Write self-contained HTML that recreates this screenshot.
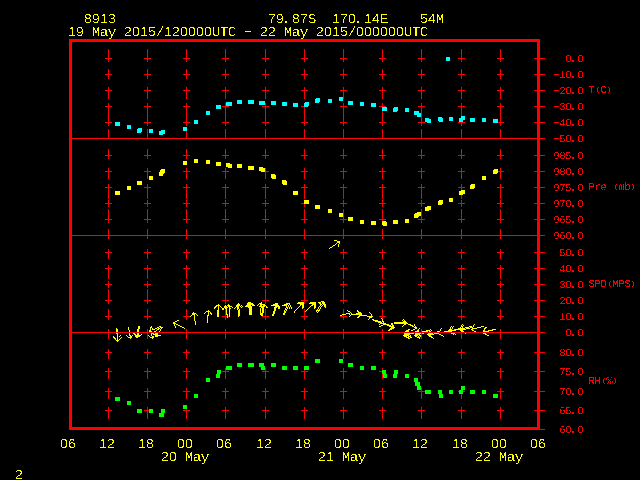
<!DOCTYPE html>
<html lang="en"><head><meta charset="utf-8"><title>Meteogram 8913</title>
<style>
html,body{margin:0;padding:0;background:#000;width:640px;height:480px;overflow:hidden}
svg{display:block;position:absolute;left:0;top:0}
text{font-family:"Liberation Sans",sans-serif;white-space:pre;text-rendering:geometricPrecision}
.t{font-size:13.0px;fill:#ffff00}
.r{font-size:10.2px;fill:#ff0000}
.m{font-family:"Liberation Mono",monospace}
.t .m{font-size:13.4px}
.r .m{font-size:10.6px}
.t .h{font-size:20px}
.r .h{font-size:18px}
.t .p{font-size:20px}
.r .p{font-size:18px}
.r .q{font-size:7.5px;font-weight:bold;font-family:"Liberation Sans",sans-serif}
</style></head><body>
<svg width="640" height="480" viewBox="0 0 640 480">
<defs>
<filter id="crispT" x="0" y="0" width="640" height="480" filterUnits="userSpaceOnUse" color-interpolation-filters="sRGB"><feComponentTransfer><feFuncA type="discrete" tableValues="0 0 0 0 0 0 0 0 0 0 0 0 0 0 0 0 0 0 0 0 0 0 0 0 1 1 1 1 1 1 1 1 1 1 1 1 1 1 1 1"/></feComponentTransfer></filter>
<filter id="crispR" x="0" y="0" width="640" height="480" filterUnits="userSpaceOnUse" color-interpolation-filters="sRGB"><feComponentTransfer><feFuncA type="discrete" tableValues="0 0 0 0 0 0 0 0 0 0 0 0 0 0 0 0 0 0 0 0 1 1 1 1 1 1 1 1 1 1 1 1 1 1 1 1 1 1 1 1"/></feComponentTransfer></filter>
</defs>
<rect x="0" y="0" width="640" height="480" fill="#000"/>
<g shape-rendering="crispEdges">
<rect x="108" y="49" width="1" height="13" fill="#ff0000"/>
<rect x="108" y="69" width="1" height="10" fill="#ff0000"/>
<rect x="108" y="87" width="1" height="12" fill="#ff0000"/>
<rect x="108" y="103" width="1" height="23" fill="#ff0000"/>
<rect x="108" y="129" width="1" height="10" fill="#ff0000"/>
<rect x="108" y="149" width="1" height="10" fill="#ff0000"/>
<rect x="108" y="168" width="1" height="11" fill="#ff0000"/>
<rect x="108" y="184" width="1" height="15" fill="#ff0000"/>
<rect x="108" y="200" width="1" height="7" fill="#ff0000"/>
<rect x="108" y="209" width="1" height="14" fill="#ff0000"/>
<rect x="108" y="229" width="1" height="10" fill="#ff0000"/>
<rect x="108" y="249" width="1" height="10" fill="#ff0000"/>
<rect x="108" y="265" width="1" height="14" fill="#ff0000"/>
<rect x="108" y="281" width="1" height="7" fill="#ff0000"/>
<rect x="108" y="289" width="1" height="15" fill="#ff0000"/>
<rect x="108" y="309" width="1" height="11" fill="#ff0000"/>
<rect x="108" y="329" width="1" height="10" fill="#ff0000"/>
<rect x="108" y="349" width="1" height="10" fill="#ff0000"/>
<rect x="108" y="368" width="1" height="11" fill="#ff0000"/>
<rect x="108" y="388" width="1" height="11" fill="#ff0000"/>
<rect x="108" y="407" width="1" height="12" fill="#ff0000"/>
<rect x="105" y="58" width="7" height="1" fill="#ff0000"/>
<rect x="105" y="74" width="7" height="1" fill="#ff0000"/>
<rect x="105" y="90" width="7" height="1" fill="#ff0000"/>
<rect x="105" y="106" width="7" height="1" fill="#ff0000"/>
<rect x="105" y="122" width="7" height="1" fill="#ff0000"/>
<rect x="105" y="155" width="7" height="1" fill="#ff0000"/>
<rect x="105" y="171" width="7" height="1" fill="#ff0000"/>
<rect x="105" y="187" width="7" height="1" fill="#ff0000"/>
<rect x="105" y="203" width="7" height="1" fill="#ff0000"/>
<rect x="105" y="219" width="7" height="1" fill="#ff0000"/>
<rect x="105" y="252" width="7" height="1" fill="#ff0000"/>
<rect x="105" y="268" width="7" height="1" fill="#ff0000"/>
<rect x="105" y="284" width="7" height="1" fill="#ff0000"/>
<rect x="105" y="300" width="7" height="1" fill="#ff0000"/>
<rect x="105" y="316" width="7" height="1" fill="#ff0000"/>
<rect x="105" y="352" width="7" height="1" fill="#ff0000"/>
<rect x="105" y="371" width="7" height="1" fill="#ff0000"/>
<rect x="105" y="391" width="7" height="1" fill="#ff0000"/>
<rect x="105" y="410" width="7" height="1" fill="#ff0000"/>
<rect x="147" y="49" width="1" height="13" fill="#ff0000"/>
<rect x="147" y="69" width="1" height="10" fill="#ff0000"/>
<rect x="147" y="87" width="1" height="12" fill="#ff0000"/>
<rect x="147" y="103" width="1" height="23" fill="#ff0000"/>
<rect x="147" y="129" width="1" height="10" fill="#ff0000"/>
<rect x="147" y="149" width="1" height="10" fill="#ff0000"/>
<rect x="147" y="168" width="1" height="11" fill="#ff0000"/>
<rect x="147" y="184" width="1" height="15" fill="#ff0000"/>
<rect x="147" y="200" width="1" height="7" fill="#ff0000"/>
<rect x="147" y="209" width="1" height="14" fill="#ff0000"/>
<rect x="147" y="229" width="1" height="10" fill="#ff0000"/>
<rect x="147" y="249" width="1" height="10" fill="#ff0000"/>
<rect x="147" y="265" width="1" height="14" fill="#ff0000"/>
<rect x="147" y="281" width="1" height="7" fill="#ff0000"/>
<rect x="147" y="289" width="1" height="15" fill="#ff0000"/>
<rect x="147" y="309" width="1" height="11" fill="#ff0000"/>
<rect x="147" y="329" width="1" height="10" fill="#ff0000"/>
<rect x="147" y="349" width="1" height="10" fill="#ff0000"/>
<rect x="147" y="368" width="1" height="11" fill="#ff0000"/>
<rect x="147" y="388" width="1" height="11" fill="#ff0000"/>
<rect x="147" y="407" width="1" height="12" fill="#ff0000"/>
<rect x="144" y="58" width="7" height="1" fill="#ff0000"/>
<rect x="144" y="74" width="7" height="1" fill="#ff0000"/>
<rect x="144" y="90" width="7" height="1" fill="#ff0000"/>
<rect x="144" y="106" width="7" height="1" fill="#ff0000"/>
<rect x="144" y="122" width="7" height="1" fill="#ff0000"/>
<rect x="144" y="155" width="7" height="1" fill="#ff0000"/>
<rect x="144" y="171" width="7" height="1" fill="#ff0000"/>
<rect x="144" y="187" width="7" height="1" fill="#ff0000"/>
<rect x="144" y="203" width="7" height="1" fill="#ff0000"/>
<rect x="144" y="219" width="7" height="1" fill="#ff0000"/>
<rect x="144" y="252" width="7" height="1" fill="#ff0000"/>
<rect x="144" y="268" width="7" height="1" fill="#ff0000"/>
<rect x="144" y="284" width="7" height="1" fill="#ff0000"/>
<rect x="144" y="300" width="7" height="1" fill="#ff0000"/>
<rect x="144" y="316" width="7" height="1" fill="#ff0000"/>
<rect x="144" y="352" width="7" height="1" fill="#ff0000"/>
<rect x="144" y="371" width="7" height="1" fill="#ff0000"/>
<rect x="144" y="391" width="7" height="1" fill="#ff0000"/>
<rect x="144" y="410" width="7" height="1" fill="#ff0000"/>
<rect x="186" y="49" width="1" height="13" fill="#ff0000"/>
<rect x="186" y="69" width="1" height="10" fill="#ff0000"/>
<rect x="186" y="87" width="1" height="12" fill="#ff0000"/>
<rect x="186" y="103" width="1" height="23" fill="#ff0000"/>
<rect x="186" y="129" width="1" height="10" fill="#ff0000"/>
<rect x="186" y="149" width="1" height="10" fill="#ff0000"/>
<rect x="186" y="168" width="1" height="11" fill="#ff0000"/>
<rect x="186" y="184" width="1" height="15" fill="#ff0000"/>
<rect x="186" y="200" width="1" height="7" fill="#ff0000"/>
<rect x="186" y="209" width="1" height="14" fill="#ff0000"/>
<rect x="186" y="229" width="1" height="10" fill="#ff0000"/>
<rect x="186" y="249" width="1" height="10" fill="#ff0000"/>
<rect x="186" y="265" width="1" height="14" fill="#ff0000"/>
<rect x="186" y="281" width="1" height="7" fill="#ff0000"/>
<rect x="186" y="289" width="1" height="15" fill="#ff0000"/>
<rect x="186" y="309" width="1" height="11" fill="#ff0000"/>
<rect x="186" y="329" width="1" height="10" fill="#ff0000"/>
<rect x="186" y="349" width="1" height="10" fill="#ff0000"/>
<rect x="186" y="368" width="1" height="11" fill="#ff0000"/>
<rect x="186" y="388" width="1" height="11" fill="#ff0000"/>
<rect x="186" y="407" width="1" height="12" fill="#ff0000"/>
<rect x="183" y="58" width="7" height="1" fill="#ff0000"/>
<rect x="183" y="74" width="7" height="1" fill="#ff0000"/>
<rect x="183" y="90" width="7" height="1" fill="#ff0000"/>
<rect x="183" y="106" width="7" height="1" fill="#ff0000"/>
<rect x="183" y="122" width="7" height="1" fill="#ff0000"/>
<rect x="183" y="155" width="7" height="1" fill="#ff0000"/>
<rect x="183" y="171" width="7" height="1" fill="#ff0000"/>
<rect x="183" y="187" width="7" height="1" fill="#ff0000"/>
<rect x="183" y="203" width="7" height="1" fill="#ff0000"/>
<rect x="183" y="219" width="7" height="1" fill="#ff0000"/>
<rect x="183" y="252" width="7" height="1" fill="#ff0000"/>
<rect x="183" y="268" width="7" height="1" fill="#ff0000"/>
<rect x="183" y="284" width="7" height="1" fill="#ff0000"/>
<rect x="183" y="300" width="7" height="1" fill="#ff0000"/>
<rect x="183" y="316" width="7" height="1" fill="#ff0000"/>
<rect x="183" y="352" width="7" height="1" fill="#ff0000"/>
<rect x="183" y="371" width="7" height="1" fill="#ff0000"/>
<rect x="183" y="391" width="7" height="1" fill="#ff0000"/>
<rect x="183" y="410" width="7" height="1" fill="#ff0000"/>
<rect x="225" y="49" width="1" height="13" fill="#ff0000"/>
<rect x="225" y="69" width="1" height="10" fill="#ff0000"/>
<rect x="225" y="87" width="1" height="12" fill="#ff0000"/>
<rect x="225" y="103" width="1" height="23" fill="#ff0000"/>
<rect x="225" y="129" width="1" height="10" fill="#ff0000"/>
<rect x="225" y="149" width="1" height="10" fill="#ff0000"/>
<rect x="225" y="168" width="1" height="11" fill="#ff0000"/>
<rect x="225" y="184" width="1" height="15" fill="#ff0000"/>
<rect x="225" y="200" width="1" height="7" fill="#ff0000"/>
<rect x="225" y="209" width="1" height="14" fill="#ff0000"/>
<rect x="225" y="229" width="1" height="10" fill="#ff0000"/>
<rect x="225" y="249" width="1" height="10" fill="#ff0000"/>
<rect x="225" y="265" width="1" height="14" fill="#ff0000"/>
<rect x="225" y="281" width="1" height="7" fill="#ff0000"/>
<rect x="225" y="289" width="1" height="15" fill="#ff0000"/>
<rect x="225" y="309" width="1" height="11" fill="#ff0000"/>
<rect x="225" y="329" width="1" height="10" fill="#ff0000"/>
<rect x="225" y="349" width="1" height="10" fill="#ff0000"/>
<rect x="225" y="368" width="1" height="11" fill="#ff0000"/>
<rect x="225" y="388" width="1" height="11" fill="#ff0000"/>
<rect x="225" y="407" width="1" height="12" fill="#ff0000"/>
<rect x="222" y="58" width="7" height="1" fill="#ff0000"/>
<rect x="222" y="74" width="7" height="1" fill="#ff0000"/>
<rect x="222" y="90" width="7" height="1" fill="#ff0000"/>
<rect x="222" y="106" width="7" height="1" fill="#ff0000"/>
<rect x="222" y="122" width="7" height="1" fill="#ff0000"/>
<rect x="222" y="155" width="7" height="1" fill="#ff0000"/>
<rect x="222" y="171" width="7" height="1" fill="#ff0000"/>
<rect x="222" y="187" width="7" height="1" fill="#ff0000"/>
<rect x="222" y="203" width="7" height="1" fill="#ff0000"/>
<rect x="222" y="219" width="7" height="1" fill="#ff0000"/>
<rect x="222" y="252" width="7" height="1" fill="#ff0000"/>
<rect x="222" y="268" width="7" height="1" fill="#ff0000"/>
<rect x="222" y="284" width="7" height="1" fill="#ff0000"/>
<rect x="222" y="300" width="7" height="1" fill="#ff0000"/>
<rect x="222" y="316" width="7" height="1" fill="#ff0000"/>
<rect x="222" y="352" width="7" height="1" fill="#ff0000"/>
<rect x="222" y="371" width="7" height="1" fill="#ff0000"/>
<rect x="222" y="391" width="7" height="1" fill="#ff0000"/>
<rect x="222" y="410" width="7" height="1" fill="#ff0000"/>
<rect x="265" y="49" width="1" height="13" fill="#ff0000"/>
<rect x="265" y="69" width="1" height="10" fill="#ff0000"/>
<rect x="265" y="87" width="1" height="12" fill="#ff0000"/>
<rect x="265" y="103" width="1" height="23" fill="#ff0000"/>
<rect x="265" y="129" width="1" height="10" fill="#ff0000"/>
<rect x="265" y="149" width="1" height="10" fill="#ff0000"/>
<rect x="265" y="168" width="1" height="11" fill="#ff0000"/>
<rect x="265" y="184" width="1" height="15" fill="#ff0000"/>
<rect x="265" y="200" width="1" height="7" fill="#ff0000"/>
<rect x="265" y="209" width="1" height="14" fill="#ff0000"/>
<rect x="265" y="229" width="1" height="10" fill="#ff0000"/>
<rect x="265" y="249" width="1" height="10" fill="#ff0000"/>
<rect x="265" y="265" width="1" height="14" fill="#ff0000"/>
<rect x="265" y="281" width="1" height="7" fill="#ff0000"/>
<rect x="265" y="289" width="1" height="15" fill="#ff0000"/>
<rect x="265" y="309" width="1" height="11" fill="#ff0000"/>
<rect x="265" y="329" width="1" height="10" fill="#ff0000"/>
<rect x="265" y="349" width="1" height="10" fill="#ff0000"/>
<rect x="265" y="368" width="1" height="11" fill="#ff0000"/>
<rect x="265" y="388" width="1" height="11" fill="#ff0000"/>
<rect x="265" y="407" width="1" height="12" fill="#ff0000"/>
<rect x="262" y="58" width="7" height="1" fill="#ff0000"/>
<rect x="262" y="74" width="7" height="1" fill="#ff0000"/>
<rect x="262" y="90" width="7" height="1" fill="#ff0000"/>
<rect x="262" y="106" width="7" height="1" fill="#ff0000"/>
<rect x="262" y="122" width="7" height="1" fill="#ff0000"/>
<rect x="262" y="155" width="7" height="1" fill="#ff0000"/>
<rect x="262" y="171" width="7" height="1" fill="#ff0000"/>
<rect x="262" y="187" width="7" height="1" fill="#ff0000"/>
<rect x="262" y="203" width="7" height="1" fill="#ff0000"/>
<rect x="262" y="219" width="7" height="1" fill="#ff0000"/>
<rect x="262" y="252" width="7" height="1" fill="#ff0000"/>
<rect x="262" y="268" width="7" height="1" fill="#ff0000"/>
<rect x="262" y="284" width="7" height="1" fill="#ff0000"/>
<rect x="262" y="300" width="7" height="1" fill="#ff0000"/>
<rect x="262" y="316" width="7" height="1" fill="#ff0000"/>
<rect x="262" y="352" width="7" height="1" fill="#ff0000"/>
<rect x="262" y="371" width="7" height="1" fill="#ff0000"/>
<rect x="262" y="391" width="7" height="1" fill="#ff0000"/>
<rect x="262" y="410" width="7" height="1" fill="#ff0000"/>
<rect x="304" y="49" width="1" height="13" fill="#ff0000"/>
<rect x="304" y="69" width="1" height="10" fill="#ff0000"/>
<rect x="304" y="87" width="1" height="12" fill="#ff0000"/>
<rect x="304" y="103" width="1" height="23" fill="#ff0000"/>
<rect x="304" y="129" width="1" height="10" fill="#ff0000"/>
<rect x="304" y="149" width="1" height="10" fill="#ff0000"/>
<rect x="304" y="168" width="1" height="11" fill="#ff0000"/>
<rect x="304" y="184" width="1" height="15" fill="#ff0000"/>
<rect x="304" y="200" width="1" height="7" fill="#ff0000"/>
<rect x="304" y="209" width="1" height="14" fill="#ff0000"/>
<rect x="304" y="229" width="1" height="10" fill="#ff0000"/>
<rect x="304" y="249" width="1" height="10" fill="#ff0000"/>
<rect x="304" y="265" width="1" height="14" fill="#ff0000"/>
<rect x="304" y="281" width="1" height="7" fill="#ff0000"/>
<rect x="304" y="289" width="1" height="15" fill="#ff0000"/>
<rect x="304" y="309" width="1" height="11" fill="#ff0000"/>
<rect x="304" y="329" width="1" height="10" fill="#ff0000"/>
<rect x="304" y="349" width="1" height="10" fill="#ff0000"/>
<rect x="304" y="368" width="1" height="11" fill="#ff0000"/>
<rect x="304" y="388" width="1" height="11" fill="#ff0000"/>
<rect x="304" y="407" width="1" height="12" fill="#ff0000"/>
<rect x="301" y="58" width="7" height="1" fill="#ff0000"/>
<rect x="301" y="74" width="7" height="1" fill="#ff0000"/>
<rect x="301" y="90" width="7" height="1" fill="#ff0000"/>
<rect x="301" y="106" width="7" height="1" fill="#ff0000"/>
<rect x="301" y="122" width="7" height="1" fill="#ff0000"/>
<rect x="301" y="155" width="7" height="1" fill="#ff0000"/>
<rect x="301" y="171" width="7" height="1" fill="#ff0000"/>
<rect x="301" y="187" width="7" height="1" fill="#ff0000"/>
<rect x="301" y="203" width="7" height="1" fill="#ff0000"/>
<rect x="301" y="219" width="7" height="1" fill="#ff0000"/>
<rect x="301" y="252" width="7" height="1" fill="#ff0000"/>
<rect x="301" y="268" width="7" height="1" fill="#ff0000"/>
<rect x="301" y="284" width="7" height="1" fill="#ff0000"/>
<rect x="301" y="300" width="7" height="1" fill="#ff0000"/>
<rect x="301" y="316" width="7" height="1" fill="#ff0000"/>
<rect x="301" y="352" width="7" height="1" fill="#ff0000"/>
<rect x="301" y="371" width="7" height="1" fill="#ff0000"/>
<rect x="301" y="391" width="7" height="1" fill="#ff0000"/>
<rect x="301" y="410" width="7" height="1" fill="#ff0000"/>
<rect x="343" y="49" width="1" height="13" fill="#ff0000"/>
<rect x="343" y="69" width="1" height="10" fill="#ff0000"/>
<rect x="343" y="87" width="1" height="12" fill="#ff0000"/>
<rect x="343" y="103" width="1" height="23" fill="#ff0000"/>
<rect x="343" y="129" width="1" height="10" fill="#ff0000"/>
<rect x="343" y="149" width="1" height="10" fill="#ff0000"/>
<rect x="343" y="168" width="1" height="11" fill="#ff0000"/>
<rect x="343" y="184" width="1" height="15" fill="#ff0000"/>
<rect x="343" y="200" width="1" height="7" fill="#ff0000"/>
<rect x="343" y="209" width="1" height="14" fill="#ff0000"/>
<rect x="343" y="229" width="1" height="10" fill="#ff0000"/>
<rect x="343" y="249" width="1" height="10" fill="#ff0000"/>
<rect x="343" y="265" width="1" height="14" fill="#ff0000"/>
<rect x="343" y="281" width="1" height="7" fill="#ff0000"/>
<rect x="343" y="289" width="1" height="15" fill="#ff0000"/>
<rect x="343" y="309" width="1" height="11" fill="#ff0000"/>
<rect x="343" y="329" width="1" height="10" fill="#ff0000"/>
<rect x="343" y="349" width="1" height="10" fill="#ff0000"/>
<rect x="343" y="368" width="1" height="11" fill="#ff0000"/>
<rect x="343" y="388" width="1" height="11" fill="#ff0000"/>
<rect x="343" y="407" width="1" height="12" fill="#ff0000"/>
<rect x="340" y="58" width="7" height="1" fill="#ff0000"/>
<rect x="340" y="74" width="7" height="1" fill="#ff0000"/>
<rect x="340" y="90" width="7" height="1" fill="#ff0000"/>
<rect x="340" y="106" width="7" height="1" fill="#ff0000"/>
<rect x="340" y="122" width="7" height="1" fill="#ff0000"/>
<rect x="340" y="155" width="7" height="1" fill="#ff0000"/>
<rect x="340" y="171" width="7" height="1" fill="#ff0000"/>
<rect x="340" y="187" width="7" height="1" fill="#ff0000"/>
<rect x="340" y="203" width="7" height="1" fill="#ff0000"/>
<rect x="340" y="219" width="7" height="1" fill="#ff0000"/>
<rect x="340" y="252" width="7" height="1" fill="#ff0000"/>
<rect x="340" y="268" width="7" height="1" fill="#ff0000"/>
<rect x="340" y="284" width="7" height="1" fill="#ff0000"/>
<rect x="340" y="300" width="7" height="1" fill="#ff0000"/>
<rect x="340" y="316" width="7" height="1" fill="#ff0000"/>
<rect x="340" y="352" width="7" height="1" fill="#ff0000"/>
<rect x="340" y="371" width="7" height="1" fill="#ff0000"/>
<rect x="340" y="391" width="7" height="1" fill="#ff0000"/>
<rect x="340" y="410" width="7" height="1" fill="#ff0000"/>
<rect x="382" y="49" width="1" height="13" fill="#ff0000"/>
<rect x="382" y="69" width="1" height="10" fill="#ff0000"/>
<rect x="382" y="87" width="1" height="12" fill="#ff0000"/>
<rect x="382" y="103" width="1" height="23" fill="#ff0000"/>
<rect x="382" y="129" width="1" height="10" fill="#ff0000"/>
<rect x="382" y="149" width="1" height="10" fill="#ff0000"/>
<rect x="382" y="168" width="1" height="11" fill="#ff0000"/>
<rect x="382" y="184" width="1" height="15" fill="#ff0000"/>
<rect x="382" y="200" width="1" height="7" fill="#ff0000"/>
<rect x="382" y="209" width="1" height="14" fill="#ff0000"/>
<rect x="382" y="229" width="1" height="10" fill="#ff0000"/>
<rect x="382" y="249" width="1" height="10" fill="#ff0000"/>
<rect x="382" y="265" width="1" height="14" fill="#ff0000"/>
<rect x="382" y="281" width="1" height="7" fill="#ff0000"/>
<rect x="382" y="289" width="1" height="15" fill="#ff0000"/>
<rect x="382" y="309" width="1" height="11" fill="#ff0000"/>
<rect x="382" y="329" width="1" height="10" fill="#ff0000"/>
<rect x="382" y="349" width="1" height="10" fill="#ff0000"/>
<rect x="382" y="368" width="1" height="11" fill="#ff0000"/>
<rect x="382" y="388" width="1" height="11" fill="#ff0000"/>
<rect x="382" y="407" width="1" height="12" fill="#ff0000"/>
<rect x="379" y="58" width="7" height="1" fill="#ff0000"/>
<rect x="379" y="74" width="7" height="1" fill="#ff0000"/>
<rect x="379" y="90" width="7" height="1" fill="#ff0000"/>
<rect x="379" y="106" width="7" height="1" fill="#ff0000"/>
<rect x="379" y="122" width="7" height="1" fill="#ff0000"/>
<rect x="379" y="155" width="7" height="1" fill="#ff0000"/>
<rect x="379" y="171" width="7" height="1" fill="#ff0000"/>
<rect x="379" y="187" width="7" height="1" fill="#ff0000"/>
<rect x="379" y="203" width="7" height="1" fill="#ff0000"/>
<rect x="379" y="219" width="7" height="1" fill="#ff0000"/>
<rect x="379" y="252" width="7" height="1" fill="#ff0000"/>
<rect x="379" y="268" width="7" height="1" fill="#ff0000"/>
<rect x="379" y="284" width="7" height="1" fill="#ff0000"/>
<rect x="379" y="300" width="7" height="1" fill="#ff0000"/>
<rect x="379" y="316" width="7" height="1" fill="#ff0000"/>
<rect x="379" y="352" width="7" height="1" fill="#ff0000"/>
<rect x="379" y="371" width="7" height="1" fill="#ff0000"/>
<rect x="379" y="391" width="7" height="1" fill="#ff0000"/>
<rect x="379" y="410" width="7" height="1" fill="#ff0000"/>
<rect x="421" y="49" width="1" height="13" fill="#ff0000"/>
<rect x="421" y="69" width="1" height="10" fill="#ff0000"/>
<rect x="421" y="87" width="1" height="12" fill="#ff0000"/>
<rect x="421" y="103" width="1" height="23" fill="#ff0000"/>
<rect x="421" y="129" width="1" height="10" fill="#ff0000"/>
<rect x="421" y="149" width="1" height="10" fill="#ff0000"/>
<rect x="421" y="168" width="1" height="11" fill="#ff0000"/>
<rect x="421" y="184" width="1" height="15" fill="#ff0000"/>
<rect x="421" y="200" width="1" height="7" fill="#ff0000"/>
<rect x="421" y="209" width="1" height="14" fill="#ff0000"/>
<rect x="421" y="229" width="1" height="10" fill="#ff0000"/>
<rect x="421" y="249" width="1" height="10" fill="#ff0000"/>
<rect x="421" y="265" width="1" height="14" fill="#ff0000"/>
<rect x="421" y="281" width="1" height="7" fill="#ff0000"/>
<rect x="421" y="289" width="1" height="15" fill="#ff0000"/>
<rect x="421" y="309" width="1" height="11" fill="#ff0000"/>
<rect x="421" y="329" width="1" height="10" fill="#ff0000"/>
<rect x="421" y="349" width="1" height="10" fill="#ff0000"/>
<rect x="421" y="368" width="1" height="11" fill="#ff0000"/>
<rect x="421" y="388" width="1" height="11" fill="#ff0000"/>
<rect x="421" y="407" width="1" height="12" fill="#ff0000"/>
<rect x="418" y="58" width="7" height="1" fill="#ff0000"/>
<rect x="418" y="74" width="7" height="1" fill="#ff0000"/>
<rect x="418" y="90" width="7" height="1" fill="#ff0000"/>
<rect x="418" y="106" width="7" height="1" fill="#ff0000"/>
<rect x="418" y="122" width="7" height="1" fill="#ff0000"/>
<rect x="418" y="155" width="7" height="1" fill="#ff0000"/>
<rect x="418" y="171" width="7" height="1" fill="#ff0000"/>
<rect x="418" y="187" width="7" height="1" fill="#ff0000"/>
<rect x="418" y="203" width="7" height="1" fill="#ff0000"/>
<rect x="418" y="219" width="7" height="1" fill="#ff0000"/>
<rect x="418" y="252" width="7" height="1" fill="#ff0000"/>
<rect x="418" y="268" width="7" height="1" fill="#ff0000"/>
<rect x="418" y="284" width="7" height="1" fill="#ff0000"/>
<rect x="418" y="300" width="7" height="1" fill="#ff0000"/>
<rect x="418" y="316" width="7" height="1" fill="#ff0000"/>
<rect x="418" y="352" width="7" height="1" fill="#ff0000"/>
<rect x="418" y="371" width="7" height="1" fill="#ff0000"/>
<rect x="418" y="391" width="7" height="1" fill="#ff0000"/>
<rect x="418" y="410" width="7" height="1" fill="#ff0000"/>
<rect x="461" y="49" width="1" height="13" fill="#ff0000"/>
<rect x="461" y="69" width="1" height="10" fill="#ff0000"/>
<rect x="461" y="87" width="1" height="12" fill="#ff0000"/>
<rect x="461" y="103" width="1" height="23" fill="#ff0000"/>
<rect x="461" y="129" width="1" height="10" fill="#ff0000"/>
<rect x="461" y="149" width="1" height="10" fill="#ff0000"/>
<rect x="461" y="168" width="1" height="11" fill="#ff0000"/>
<rect x="461" y="184" width="1" height="15" fill="#ff0000"/>
<rect x="461" y="200" width="1" height="7" fill="#ff0000"/>
<rect x="461" y="209" width="1" height="14" fill="#ff0000"/>
<rect x="461" y="229" width="1" height="10" fill="#ff0000"/>
<rect x="461" y="249" width="1" height="10" fill="#ff0000"/>
<rect x="461" y="265" width="1" height="14" fill="#ff0000"/>
<rect x="461" y="281" width="1" height="7" fill="#ff0000"/>
<rect x="461" y="289" width="1" height="15" fill="#ff0000"/>
<rect x="461" y="309" width="1" height="11" fill="#ff0000"/>
<rect x="461" y="329" width="1" height="10" fill="#ff0000"/>
<rect x="461" y="349" width="1" height="10" fill="#ff0000"/>
<rect x="461" y="368" width="1" height="11" fill="#ff0000"/>
<rect x="461" y="388" width="1" height="11" fill="#ff0000"/>
<rect x="461" y="407" width="1" height="12" fill="#ff0000"/>
<rect x="458" y="58" width="7" height="1" fill="#ff0000"/>
<rect x="458" y="74" width="7" height="1" fill="#ff0000"/>
<rect x="458" y="90" width="7" height="1" fill="#ff0000"/>
<rect x="458" y="106" width="7" height="1" fill="#ff0000"/>
<rect x="458" y="122" width="7" height="1" fill="#ff0000"/>
<rect x="458" y="155" width="7" height="1" fill="#ff0000"/>
<rect x="458" y="171" width="7" height="1" fill="#ff0000"/>
<rect x="458" y="187" width="7" height="1" fill="#ff0000"/>
<rect x="458" y="203" width="7" height="1" fill="#ff0000"/>
<rect x="458" y="219" width="7" height="1" fill="#ff0000"/>
<rect x="458" y="252" width="7" height="1" fill="#ff0000"/>
<rect x="458" y="268" width="7" height="1" fill="#ff0000"/>
<rect x="458" y="284" width="7" height="1" fill="#ff0000"/>
<rect x="458" y="300" width="7" height="1" fill="#ff0000"/>
<rect x="458" y="316" width="7" height="1" fill="#ff0000"/>
<rect x="458" y="352" width="7" height="1" fill="#ff0000"/>
<rect x="458" y="371" width="7" height="1" fill="#ff0000"/>
<rect x="458" y="391" width="7" height="1" fill="#ff0000"/>
<rect x="458" y="410" width="7" height="1" fill="#ff0000"/>
<rect x="500" y="49" width="1" height="13" fill="#ff0000"/>
<rect x="500" y="69" width="1" height="10" fill="#ff0000"/>
<rect x="500" y="87" width="1" height="12" fill="#ff0000"/>
<rect x="500" y="103" width="1" height="23" fill="#ff0000"/>
<rect x="500" y="129" width="1" height="10" fill="#ff0000"/>
<rect x="500" y="149" width="1" height="10" fill="#ff0000"/>
<rect x="500" y="168" width="1" height="11" fill="#ff0000"/>
<rect x="500" y="184" width="1" height="15" fill="#ff0000"/>
<rect x="500" y="200" width="1" height="7" fill="#ff0000"/>
<rect x="500" y="209" width="1" height="14" fill="#ff0000"/>
<rect x="500" y="229" width="1" height="10" fill="#ff0000"/>
<rect x="500" y="249" width="1" height="10" fill="#ff0000"/>
<rect x="500" y="265" width="1" height="14" fill="#ff0000"/>
<rect x="500" y="281" width="1" height="7" fill="#ff0000"/>
<rect x="500" y="289" width="1" height="15" fill="#ff0000"/>
<rect x="500" y="309" width="1" height="11" fill="#ff0000"/>
<rect x="500" y="329" width="1" height="10" fill="#ff0000"/>
<rect x="500" y="349" width="1" height="10" fill="#ff0000"/>
<rect x="500" y="368" width="1" height="11" fill="#ff0000"/>
<rect x="500" y="388" width="1" height="11" fill="#ff0000"/>
<rect x="500" y="407" width="1" height="12" fill="#ff0000"/>
<rect x="497" y="58" width="7" height="1" fill="#ff0000"/>
<rect x="497" y="74" width="7" height="1" fill="#ff0000"/>
<rect x="497" y="90" width="7" height="1" fill="#ff0000"/>
<rect x="497" y="106" width="7" height="1" fill="#ff0000"/>
<rect x="497" y="122" width="7" height="1" fill="#ff0000"/>
<rect x="497" y="155" width="7" height="1" fill="#ff0000"/>
<rect x="497" y="171" width="7" height="1" fill="#ff0000"/>
<rect x="497" y="187" width="7" height="1" fill="#ff0000"/>
<rect x="497" y="203" width="7" height="1" fill="#ff0000"/>
<rect x="497" y="219" width="7" height="1" fill="#ff0000"/>
<rect x="497" y="252" width="7" height="1" fill="#ff0000"/>
<rect x="497" y="268" width="7" height="1" fill="#ff0000"/>
<rect x="497" y="284" width="7" height="1" fill="#ff0000"/>
<rect x="497" y="300" width="7" height="1" fill="#ff0000"/>
<rect x="497" y="316" width="7" height="1" fill="#ff0000"/>
<rect x="497" y="352" width="7" height="1" fill="#ff0000"/>
<rect x="497" y="371" width="7" height="1" fill="#ff0000"/>
<rect x="497" y="391" width="7" height="1" fill="#ff0000"/>
<rect x="497" y="410" width="7" height="1" fill="#ff0000"/>
<rect x="72" y="138" width="473" height="1" fill="#ff0000"/>
<rect x="72" y="235" width="473" height="1" fill="#ff0000"/>
<rect x="72" y="332" width="473" height="1" fill="#ff0000"/>
<rect x="534" y="58" width="11" height="1" fill="#ff0000"/>
<rect x="534" y="74" width="11" height="1" fill="#ff0000"/>
<rect x="534" y="90" width="11" height="1" fill="#ff0000"/>
<rect x="534" y="106" width="11" height="1" fill="#ff0000"/>
<rect x="534" y="122" width="11" height="1" fill="#ff0000"/>
<rect x="534" y="138" width="11" height="1" fill="#ff0000"/>
<rect x="534" y="155" width="11" height="1" fill="#ff0000"/>
<rect x="534" y="171" width="11" height="1" fill="#ff0000"/>
<rect x="534" y="187" width="11" height="1" fill="#ff0000"/>
<rect x="534" y="203" width="11" height="1" fill="#ff0000"/>
<rect x="534" y="219" width="11" height="1" fill="#ff0000"/>
<rect x="534" y="235" width="11" height="1" fill="#ff0000"/>
<rect x="534" y="252" width="11" height="1" fill="#ff0000"/>
<rect x="534" y="268" width="11" height="1" fill="#ff0000"/>
<rect x="534" y="284" width="11" height="1" fill="#ff0000"/>
<rect x="534" y="300" width="11" height="1" fill="#ff0000"/>
<rect x="534" y="316" width="11" height="1" fill="#ff0000"/>
<rect x="534" y="332" width="11" height="1" fill="#ff0000"/>
<rect x="534" y="352" width="11" height="1" fill="#ff0000"/>
<rect x="534" y="371" width="11" height="1" fill="#ff0000"/>
<rect x="534" y="391" width="11" height="1" fill="#ff0000"/>
<rect x="534" y="410" width="11" height="1" fill="#ff0000"/>
<rect x="534" y="429" width="11" height="1" fill="#ff0000"/>
<rect x="115" y="122" width="5" height="4" fill="#00ffff"/>
<rect x="127" y="125" width="4" height="4" fill="#00ffff"/>
<rect x="137" y="129" width="4" height="4" fill="#00ffff"/>
<rect x="138" y="128" width="4" height="4" fill="#00ffff"/>
<rect x="149" y="129" width="4" height="4" fill="#00ffff"/>
<rect x="159" y="131" width="4" height="4" fill="#00ffff"/>
<rect x="161" y="130" width="4" height="4" fill="#00ffff"/>
<rect x="183" y="127" width="4" height="4" fill="#00ffff"/>
<rect x="194" y="120" width="4" height="4" fill="#00ffff"/>
<rect x="206" y="111" width="4" height="4" fill="#00ffff"/>
<rect x="216" y="105" width="5" height="4" fill="#00ffff"/>
<rect x="226" y="102" width="6" height="4" fill="#00ffff"/>
<rect x="237" y="100" width="5" height="4" fill="#00ffff"/>
<rect x="248" y="100" width="6" height="4" fill="#00ffff"/>
<rect x="259" y="101" width="6" height="4" fill="#00ffff"/>
<rect x="271" y="101" width="5" height="4" fill="#00ffff"/>
<rect x="282" y="102" width="5" height="4" fill="#00ffff"/>
<rect x="293" y="103" width="5" height="4" fill="#00ffff"/>
<rect x="304" y="103" width="4" height="4" fill="#00ffff"/>
<rect x="305" y="102" width="4" height="4" fill="#00ffff"/>
<rect x="315" y="99" width="4" height="4" fill="#00ffff"/>
<rect x="316" y="98" width="4" height="4" fill="#00ffff"/>
<rect x="328" y="99" width="4" height="4" fill="#00ffff"/>
<rect x="339" y="97" width="4" height="4" fill="#00ffff"/>
<rect x="348" y="101" width="5" height="4" fill="#00ffff"/>
<rect x="360" y="102" width="4" height="4" fill="#00ffff"/>
<rect x="371" y="103" width="5" height="4" fill="#00ffff"/>
<rect x="382" y="107" width="5" height="4" fill="#00ffff"/>
<rect x="393" y="108" width="4" height="4" fill="#00ffff"/>
<rect x="394" y="107" width="4" height="4" fill="#00ffff"/>
<rect x="405" y="108" width="4" height="4" fill="#00ffff"/>
<rect x="414" y="111" width="5" height="4" fill="#00ffff"/>
<rect x="417" y="113" width="4" height="4" fill="#00ffff"/>
<rect x="425" y="118" width="4" height="4" fill="#00ffff"/>
<rect x="427" y="119" width="4" height="4" fill="#00ffff"/>
<rect x="438" y="117" width="4" height="4" fill="#00ffff"/>
<rect x="439" y="118" width="4" height="4" fill="#00ffff"/>
<rect x="449" y="117" width="4" height="4" fill="#00ffff"/>
<rect x="459" y="118" width="4" height="4" fill="#00ffff"/>
<rect x="461" y="116" width="4" height="4" fill="#00ffff"/>
<rect x="470" y="118" width="5" height="4" fill="#00ffff"/>
<rect x="482" y="118" width="4" height="4" fill="#00ffff"/>
<rect x="493" y="119" width="5" height="4" fill="#00ffff"/>
<rect x="446" y="57" width="4" height="4" fill="#00ffff"/>
<rect x="115" y="191" width="5" height="4" fill="#ffff00"/>
<rect x="127" y="186" width="4" height="4" fill="#ffff00"/>
<rect x="137" y="181" width="5" height="4" fill="#ffff00"/>
<rect x="149" y="176" width="4" height="4" fill="#ffff00"/>
<rect x="159" y="172" width="4" height="4" fill="#ffff00"/>
<rect x="160" y="170" width="4" height="4" fill="#ffff00"/>
<rect x="161" y="169" width="4" height="4" fill="#ffff00"/>
<rect x="183" y="161" width="4" height="4" fill="#ffff00"/>
<rect x="194" y="159" width="4" height="4" fill="#ffff00"/>
<rect x="206" y="160" width="4" height="4" fill="#ffff00"/>
<rect x="216" y="162" width="5" height="4" fill="#ffff00"/>
<rect x="226" y="163" width="4" height="4" fill="#ffff00"/>
<rect x="228" y="164" width="4" height="4" fill="#ffff00"/>
<rect x="237" y="164" width="5" height="4" fill="#ffff00"/>
<rect x="248" y="166" width="6" height="4" fill="#ffff00"/>
<rect x="259" y="167" width="4" height="4" fill="#ffff00"/>
<rect x="261" y="168" width="4" height="4" fill="#ffff00"/>
<rect x="271" y="174" width="4" height="4" fill="#ffff00"/>
<rect x="272" y="175" width="4" height="4" fill="#ffff00"/>
<rect x="282" y="180" width="4" height="4" fill="#ffff00"/>
<rect x="283" y="181" width="4" height="4" fill="#ffff00"/>
<rect x="293" y="191" width="5" height="4" fill="#ffff00"/>
<rect x="304" y="200" width="5" height="4" fill="#ffff00"/>
<rect x="315" y="205" width="5" height="4" fill="#ffff00"/>
<rect x="328" y="209" width="4" height="4" fill="#ffff00"/>
<rect x="339" y="213" width="4" height="4" fill="#ffff00"/>
<rect x="348" y="217" width="5" height="4" fill="#ffff00"/>
<rect x="360" y="220" width="4" height="4" fill="#ffff00"/>
<rect x="371" y="221" width="5" height="4" fill="#ffff00"/>
<rect x="382" y="221" width="4" height="4" fill="#ffff00"/>
<rect x="383" y="222" width="4" height="4" fill="#ffff00"/>
<rect x="393" y="220" width="5" height="4" fill="#ffff00"/>
<rect x="405" y="219" width="4" height="4" fill="#ffff00"/>
<rect x="414" y="214" width="4" height="4" fill="#ffff00"/>
<rect x="415" y="213" width="4" height="4" fill="#ffff00"/>
<rect x="417" y="212" width="4" height="4" fill="#ffff00"/>
<rect x="425" y="207" width="4" height="4" fill="#ffff00"/>
<rect x="427" y="206" width="4" height="4" fill="#ffff00"/>
<rect x="438" y="201" width="4" height="4" fill="#ffff00"/>
<rect x="439" y="200" width="4" height="4" fill="#ffff00"/>
<rect x="449" y="198" width="4" height="4" fill="#ffff00"/>
<rect x="459" y="191" width="4" height="4" fill="#ffff00"/>
<rect x="461" y="190" width="4" height="4" fill="#ffff00"/>
<rect x="470" y="185" width="4" height="4" fill="#ffff00"/>
<rect x="471" y="184" width="4" height="4" fill="#ffff00"/>
<rect x="482" y="176" width="4" height="4" fill="#ffff00"/>
<rect x="493" y="170" width="4" height="4" fill="#ffff00"/>
<rect x="494" y="169" width="4" height="4" fill="#ffff00"/>
<rect x="151" y="326" width="1" height="1" fill="#ffff00"/>
<rect x="159" y="326" width="2" height="1" fill="#ffff00"/>
<rect x="150" y="327" width="2" height="1" fill="#ffff00"/>
<rect x="157" y="327" width="2" height="1" fill="#ffff00"/>
<rect x="160" y="327" width="3" height="1" fill="#ffff00"/>
<rect x="150" y="328" width="1" height="1" fill="#ffff00"/>
<rect x="152" y="328" width="1" height="1" fill="#ffff00"/>
<rect x="155" y="328" width="2" height="1" fill="#ffff00"/>
<rect x="158" y="328" width="2" height="1" fill="#ffff00"/>
<rect x="161" y="328" width="1" height="1" fill="#ffff00"/>
<rect x="150" y="329" width="1" height="1" fill="#ffff00"/>
<rect x="152" y="329" width="3" height="1" fill="#ffff00"/>
<rect x="157" y="329" width="2" height="1" fill="#ffff00"/>
<rect x="160" y="329" width="1" height="1" fill="#ffff00"/>
<rect x="149" y="330" width="2" height="1" fill="#ffff00"/>
<rect x="156" y="330" width="1" height="1" fill="#ffff00"/>
<rect x="160" y="330" width="1" height="1" fill="#ffff00"/>
<rect x="149" y="331" width="3" height="1" fill="#ffff00"/>
<rect x="154" y="331" width="2" height="1" fill="#ffff00"/>
<rect x="159" y="331" width="1" height="1" fill="#ffff00"/>
<rect x="150" y="332" width="4" height="1" fill="#ffff00"/>
<rect x="155" y="332" width="4" height="1" fill="#ffff00"/>
<rect x="151" y="333" width="3" height="1" fill="#ffff00"/>
<rect x="155" y="333" width="3" height="1" fill="#ffff00"/>
<rect x="151" y="334" width="1" height="1" fill="#ffff00"/>
<rect x="153" y="334" width="5" height="1" fill="#ffff00"/>
<rect x="148" y="335" width="1" height="1" fill="#ffff00"/>
<rect x="151" y="335" width="1" height="1" fill="#ffff00"/>
<rect x="155" y="335" width="6" height="1" fill="#ffff00"/>
<rect x="149" y="336" width="1" height="1" fill="#ffff00"/>
<rect x="152" y="336" width="2" height="1" fill="#ffff00"/>
<rect x="155" y="336" width="3" height="1" fill="#ffff00"/>
<rect x="150" y="337" width="4" height="1" fill="#ffff00"/>
<rect x="152" y="338" width="1" height="1" fill="#ffff00"/>
<rect x="116" y="328" width="1" height="1" fill="#ffff00"/>
<rect x="116" y="329" width="2" height="1" fill="#ffff00"/>
<rect x="116" y="330" width="2" height="1" fill="#ffff00"/>
<rect x="116" y="331" width="2" height="1" fill="#ffff00"/>
<rect x="116" y="332" width="2" height="1" fill="#ffff00"/>
<rect x="116" y="333" width="2" height="1" fill="#ffff00"/>
<rect x="117" y="334" width="1" height="1" fill="#ffff00"/>
<rect x="117" y="335" width="1" height="1" fill="#ffff00"/>
<rect x="120" y="335" width="1" height="1" fill="#ffff00"/>
<rect x="113" y="336" width="1" height="1" fill="#ffff00"/>
<rect x="117" y="336" width="1" height="1" fill="#ffff00"/>
<rect x="119" y="336" width="1" height="1" fill="#ffff00"/>
<rect x="113" y="337" width="2" height="1" fill="#ffff00"/>
<rect x="117" y="337" width="1" height="1" fill="#ffff00"/>
<rect x="121" y="337" width="1" height="1" fill="#ffff00"/>
<rect x="114" y="338" width="2" height="1" fill="#ffff00"/>
<rect x="117" y="338" width="1" height="1" fill="#ffff00"/>
<rect x="120" y="338" width="1" height="1" fill="#ffff00"/>
<rect x="115" y="339" width="1" height="1" fill="#ffff00"/>
<rect x="117" y="339" width="1" height="1" fill="#ffff00"/>
<rect x="119" y="339" width="1" height="1" fill="#ffff00"/>
<rect x="116" y="340" width="3" height="1" fill="#ffff00"/>
<rect x="117" y="341" width="1" height="1" fill="#ffff00"/>
<rect x="128" y="327" width="1" height="1" fill="#ffff00"/>
<rect x="128" y="328" width="1" height="1" fill="#ffff00"/>
<rect x="128" y="329" width="1" height="1" fill="#ffff00"/>
<rect x="129" y="330" width="1" height="1" fill="#ffff00"/>
<rect x="129" y="331" width="1" height="1" fill="#ffff00"/>
<rect x="129" y="332" width="1" height="1" fill="#ffff00"/>
<rect x="129" y="333" width="1" height="1" fill="#ffff00"/>
<rect x="129" y="334" width="1" height="1" fill="#ffff00"/>
<rect x="126" y="335" width="1" height="1" fill="#ffff00"/>
<rect x="129" y="335" width="2" height="1" fill="#ffff00"/>
<rect x="132" y="335" width="1" height="1" fill="#ffff00"/>
<rect x="127" y="336" width="1" height="1" fill="#ffff00"/>
<rect x="130" y="336" width="2" height="1" fill="#ffff00"/>
<rect x="128" y="337" width="4" height="1" fill="#ffff00"/>
<rect x="130" y="338" width="1" height="1" fill="#ffff00"/>
<rect x="138" y="326" width="2" height="1" fill="#ffff00"/>
<rect x="138" y="327" width="2" height="1" fill="#ffff00"/>
<rect x="138" y="328" width="2" height="1" fill="#ffff00"/>
<rect x="137" y="329" width="2" height="1" fill="#ffff00"/>
<rect x="137" y="330" width="2" height="1" fill="#ffff00"/>
<rect x="137" y="331" width="2" height="1" fill="#ffff00"/>
<rect x="137" y="332" width="2" height="1" fill="#ffff00"/>
<rect x="133" y="333" width="2" height="1" fill="#ffff00"/>
<rect x="137" y="333" width="2" height="1" fill="#ffff00"/>
<rect x="134" y="334" width="2" height="1" fill="#ffff00"/>
<rect x="137" y="334" width="2" height="1" fill="#ffff00"/>
<rect x="141" y="334" width="1" height="1" fill="#ffff00"/>
<rect x="135" y="335" width="6" height="1" fill="#ffff00"/>
<rect x="135" y="336" width="5" height="1" fill="#ffff00"/>
<rect x="136" y="337" width="2" height="1" fill="#ffff00"/>
<rect x="462" y="324" width="1" height="1" fill="#ffff00"/>
<rect x="474" y="324" width="1" height="1" fill="#ffff00"/>
<rect x="461" y="325" width="1" height="1" fill="#ffff00"/>
<rect x="463" y="325" width="1" height="1" fill="#ffff00"/>
<rect x="473" y="325" width="1" height="1" fill="#ffff00"/>
<rect x="451" y="326" width="1" height="1" fill="#ffff00"/>
<rect x="453" y="326" width="1" height="1" fill="#ffff00"/>
<rect x="461" y="326" width="2" height="1" fill="#ffff00"/>
<rect x="469" y="326" width="3" height="1" fill="#ffff00"/>
<rect x="473" y="326" width="1" height="1" fill="#ffff00"/>
<rect x="481" y="326" width="3" height="1" fill="#ffff00"/>
<rect x="450" y="327" width="1" height="1" fill="#ffff00"/>
<rect x="452" y="327" width="1" height="1" fill="#ffff00"/>
<rect x="460" y="327" width="1" height="1" fill="#ffff00"/>
<rect x="462" y="327" width="1" height="1" fill="#ffff00"/>
<rect x="465" y="327" width="4" height="1" fill="#ffff00"/>
<rect x="470" y="327" width="3" height="1" fill="#ffff00"/>
<rect x="477" y="327" width="4" height="1" fill="#ffff00"/>
<rect x="485" y="327" width="2" height="1" fill="#ffff00"/>
<rect x="441" y="328" width="1" height="1" fill="#ffff00"/>
<rect x="450" y="328" width="1" height="1" fill="#ffff00"/>
<rect x="452" y="328" width="1" height="1" fill="#ffff00"/>
<rect x="458" y="328" width="7" height="1" fill="#ffff00"/>
<rect x="466" y="328" width="4" height="1" fill="#ffff00"/>
<rect x="472" y="328" width="5" height="1" fill="#ffff00"/>
<rect x="484" y="328" width="2" height="1" fill="#ffff00"/>
<rect x="430" y="329" width="1" height="1" fill="#ffff00"/>
<rect x="440" y="329" width="1" height="1" fill="#ffff00"/>
<rect x="449" y="329" width="3" height="1" fill="#ffff00"/>
<rect x="454" y="329" width="12" height="1" fill="#ffff00"/>
<rect x="471" y="329" width="2" height="1" fill="#ffff00"/>
<rect x="484" y="329" width="1" height="1" fill="#ffff00"/>
<rect x="492" y="329" width="4" height="1" fill="#ffff00"/>
<rect x="426" y="330" width="4" height="1" fill="#ffff00"/>
<rect x="431" y="330" width="1" height="1" fill="#ffff00"/>
<rect x="440" y="330" width="1" height="1" fill="#ffff00"/>
<rect x="448" y="330" width="8" height="1" fill="#ffff00"/>
<rect x="460" y="330" width="3" height="1" fill="#ffff00"/>
<rect x="472" y="330" width="2" height="1" fill="#ffff00"/>
<rect x="483" y="330" width="2" height="1" fill="#ffff00"/>
<rect x="488" y="330" width="5" height="1" fill="#ffff00"/>
<rect x="422" y="331" width="6" height="1" fill="#ffff00"/>
<rect x="429" y="331" width="2" height="1" fill="#ffff00"/>
<rect x="437" y="331" width="3" height="1" fill="#ffff00"/>
<rect x="444" y="331" width="8" height="1" fill="#ffff00"/>
<rect x="461" y="331" width="3" height="1" fill="#ffff00"/>
<rect x="474" y="331" width="2" height="1" fill="#ffff00"/>
<rect x="483" y="331" width="6" height="1" fill="#ffff00"/>
<rect x="422" y="332" width="19" height="1" fill="#ffff00"/>
<rect x="444" y="332" width="22" height="1" fill="#ffff00"/>
<rect x="474" y="332" width="2" height="1" fill="#ffff00"/>
<rect x="483" y="332" width="6" height="1" fill="#ffff00"/>
<rect x="428" y="333" width="5" height="1" fill="#ffff00"/>
<rect x="434" y="333" width="5" height="1" fill="#ffff00"/>
<rect x="451" y="333" width="4" height="1" fill="#ffff00"/>
<rect x="465" y="333" width="1" height="1" fill="#ffff00"/>
<rect x="483" y="333" width="3" height="1" fill="#ffff00"/>
<rect x="427" y="334" width="7" height="1" fill="#ffff00"/>
<rect x="439" y="334" width="2" height="1" fill="#ffff00"/>
<rect x="453" y="334" width="1" height="1" fill="#ffff00"/>
<rect x="455" y="334" width="1" height="1" fill="#ffff00"/>
<rect x="485" y="334" width="2" height="1" fill="#ffff00"/>
<rect x="428" y="335" width="3" height="1" fill="#ffff00"/>
<rect x="441" y="335" width="2" height="1" fill="#ffff00"/>
<rect x="487" y="335" width="2" height="1" fill="#ffff00"/>
<rect x="429" y="336" width="3" height="1" fill="#ffff00"/>
<rect x="443" y="336" width="1" height="1" fill="#ffff00"/>
<rect x="431" y="337" width="2" height="1" fill="#ffff00"/>
<rect x="433" y="338" width="1" height="1" fill="#ffff00"/>
<rect x="347" y="310" width="1" height="1" fill="#ffff00"/>
<rect x="357" y="310" width="1" height="1" fill="#ffff00"/>
<rect x="348" y="311" width="2" height="1" fill="#ffff00"/>
<rect x="357" y="311" width="2" height="1" fill="#ffff00"/>
<rect x="350" y="312" width="1" height="1" fill="#ffff00"/>
<rect x="358" y="312" width="3" height="1" fill="#ffff00"/>
<rect x="369" y="312" width="1" height="1" fill="#ffff00"/>
<rect x="346" y="313" width="4" height="1" fill="#ffff00"/>
<rect x="351" y="313" width="1" height="1" fill="#ffff00"/>
<rect x="356" y="313" width="6" height="1" fill="#ffff00"/>
<rect x="370" y="313" width="1" height="1" fill="#ffff00"/>
<rect x="342" y="314" width="4" height="1" fill="#ffff00"/>
<rect x="349" y="314" width="1" height="1" fill="#ffff00"/>
<rect x="351" y="314" width="11" height="1" fill="#ffff00"/>
<rect x="371" y="314" width="1" height="1" fill="#ffff00"/>
<rect x="340" y="315" width="2" height="1" fill="#ffff00"/>
<rect x="350" y="315" width="1" height="1" fill="#ffff00"/>
<rect x="359" y="315" width="8" height="1" fill="#ffff00"/>
<rect x="371" y="315" width="1" height="1" fill="#ffff00"/>
<rect x="349" y="316" width="1" height="1" fill="#ffff00"/>
<rect x="358" y="316" width="2" height="1" fill="#ffff00"/>
<rect x="367" y="316" width="6" height="1" fill="#ffff00"/>
<rect x="357" y="317" width="2" height="1" fill="#ffff00"/>
<rect x="369" y="317" width="3" height="1" fill="#ffff00"/>
<rect x="369" y="318" width="1" height="1" fill="#ffff00"/>
<rect x="381" y="318" width="1" height="1" fill="#ffff00"/>
<rect x="368" y="319" width="1" height="1" fill="#ffff00"/>
<rect x="372" y="319" width="2" height="1" fill="#ffff00"/>
<rect x="382" y="319" width="1" height="1" fill="#ffff00"/>
<rect x="403" y="319" width="1" height="1" fill="#ffff00"/>
<rect x="373" y="320" width="5" height="1" fill="#ffff00"/>
<rect x="382" y="320" width="1" height="1" fill="#ffff00"/>
<rect x="402" y="320" width="1" height="1" fill="#ffff00"/>
<rect x="404" y="320" width="1" height="1" fill="#ffff00"/>
<rect x="375" y="321" width="6" height="1" fill="#ffff00"/>
<rect x="382" y="321" width="2" height="1" fill="#ffff00"/>
<rect x="403" y="321" width="3" height="1" fill="#ffff00"/>
<rect x="378" y="322" width="4" height="1" fill="#ffff00"/>
<rect x="383" y="322" width="1" height="1" fill="#ffff00"/>
<rect x="394" y="322" width="13" height="1" fill="#ffff00"/>
<rect x="380" y="323" width="6" height="1" fill="#ffff00"/>
<rect x="391" y="323" width="2" height="1" fill="#ffff00"/>
<rect x="394" y="323" width="14" height="1" fill="#ffff00"/>
<rect x="379" y="324" width="1" height="1" fill="#ffff00"/>
<rect x="383" y="324" width="6" height="1" fill="#ffff00"/>
<rect x="391" y="324" width="2" height="1" fill="#ffff00"/>
<rect x="404" y="324" width="2" height="1" fill="#ffff00"/>
<rect x="408" y="324" width="3" height="1" fill="#ffff00"/>
<rect x="414" y="324" width="1" height="1" fill="#ffff00"/>
<rect x="381" y="325" width="2" height="1" fill="#ffff00"/>
<rect x="387" y="325" width="4" height="1" fill="#ffff00"/>
<rect x="392" y="325" width="2" height="1" fill="#ffff00"/>
<rect x="403" y="325" width="1" height="1" fill="#ffff00"/>
<rect x="410" y="325" width="3" height="1" fill="#ffff00"/>
<rect x="414" y="325" width="1" height="1" fill="#ffff00"/>
<rect x="379" y="326" width="2" height="1" fill="#ffff00"/>
<rect x="389" y="326" width="5" height="1" fill="#ffff00"/>
<rect x="402" y="326" width="1" height="1" fill="#ffff00"/>
<rect x="412" y="326" width="2" height="1" fill="#ffff00"/>
<rect x="415" y="326" width="1" height="1" fill="#ffff00"/>
<rect x="391" y="327" width="4" height="1" fill="#ffff00"/>
<rect x="414" y="327" width="3" height="1" fill="#ffff00"/>
<rect x="390" y="328" width="4" height="1" fill="#ffff00"/>
<rect x="415" y="328" width="2" height="1" fill="#ffff00"/>
<rect x="419" y="328" width="1" height="1" fill="#ffff00"/>
<rect x="389" y="329" width="3" height="1" fill="#ffff00"/>
<rect x="408" y="329" width="2" height="1" fill="#ffff00"/>
<rect x="413" y="329" width="2" height="1" fill="#ffff00"/>
<rect x="418" y="329" width="1" height="1" fill="#ffff00"/>
<rect x="388" y="330" width="2" height="1" fill="#ffff00"/>
<rect x="406" y="330" width="3" height="1" fill="#ffff00"/>
<rect x="411" y="330" width="2" height="1" fill="#ffff00"/>
<rect x="417" y="330" width="2" height="1" fill="#ffff00"/>
<rect x="405" y="331" width="4" height="1" fill="#ffff00"/>
<rect x="415" y="331" width="4" height="1" fill="#ffff00"/>
<rect x="404" y="332" width="20" height="1" fill="#ffff00"/>
<rect x="404" y="333" width="10" height="1" fill="#ffff00"/>
<rect x="415" y="333" width="9" height="1" fill="#ffff00"/>
<rect x="404" y="334" width="6" height="1" fill="#ffff00"/>
<rect x="415" y="334" width="5" height="1" fill="#ffff00"/>
<rect x="403" y="335" width="6" height="1" fill="#ffff00"/>
<rect x="410" y="335" width="1" height="1" fill="#ffff00"/>
<rect x="414" y="335" width="4" height="1" fill="#ffff00"/>
<rect x="419" y="335" width="2" height="1" fill="#ffff00"/>
<rect x="404" y="336" width="3" height="1" fill="#ffff00"/>
<rect x="408" y="336" width="3" height="1" fill="#ffff00"/>
<rect x="415" y="336" width="2" height="1" fill="#ffff00"/>
<rect x="418" y="336" width="1" height="1" fill="#ffff00"/>
<rect x="420" y="336" width="1" height="1" fill="#ffff00"/>
<rect x="406" y="337" width="3" height="1" fill="#ffff00"/>
<rect x="410" y="337" width="2" height="1" fill="#ffff00"/>
<rect x="417" y="337" width="3" height="1" fill="#ffff00"/>
<rect x="408" y="338" width="2" height="1" fill="#ffff00"/>
<rect x="419" y="338" width="1" height="1" fill="#ffff00"/>
<rect x="321" y="301" width="3" height="1" fill="#ffff00"/>
<rect x="248" y="302" width="3" height="1" fill="#ffff00"/>
<rect x="261" y="302" width="1" height="1" fill="#ffff00"/>
<rect x="298" y="302" width="6" height="1" fill="#ffff00"/>
<rect x="310" y="302" width="6" height="1" fill="#ffff00"/>
<rect x="318" y="302" width="3" height="1" fill="#ffff00"/>
<rect x="322" y="302" width="3" height="1" fill="#ffff00"/>
<rect x="238" y="303" width="1" height="1" fill="#ffff00"/>
<rect x="247" y="303" width="6" height="1" fill="#ffff00"/>
<rect x="259" y="303" width="3" height="1" fill="#ffff00"/>
<rect x="275" y="303" width="3" height="1" fill="#ffff00"/>
<rect x="286" y="303" width="4" height="1" fill="#ffff00"/>
<rect x="297" y="303" width="7" height="1" fill="#ffff00"/>
<rect x="309" y="303" width="7" height="1" fill="#ffff00"/>
<rect x="319" y="303" width="2" height="1" fill="#ffff00"/>
<rect x="322" y="303" width="3" height="1" fill="#ffff00"/>
<rect x="218" y="304" width="1" height="1" fill="#ffff00"/>
<rect x="228" y="304" width="1" height="1" fill="#ffff00"/>
<rect x="237" y="304" width="3" height="1" fill="#ffff00"/>
<rect x="247" y="304" width="7" height="1" fill="#ffff00"/>
<rect x="258" y="304" width="1" height="1" fill="#ffff00"/>
<rect x="260" y="304" width="5" height="1" fill="#ffff00"/>
<rect x="273" y="304" width="5" height="1" fill="#ffff00"/>
<rect x="284" y="304" width="4" height="1" fill="#ffff00"/>
<rect x="289" y="304" width="1" height="1" fill="#ffff00"/>
<rect x="300" y="304" width="4" height="1" fill="#ffff00"/>
<rect x="312" y="304" width="4" height="1" fill="#ffff00"/>
<rect x="320" y="304" width="2" height="1" fill="#ffff00"/>
<rect x="323" y="304" width="3" height="1" fill="#ffff00"/>
<rect x="216" y="305" width="4" height="1" fill="#ffff00"/>
<rect x="225" y="305" width="1" height="1" fill="#ffff00"/>
<rect x="227" y="305" width="3" height="1" fill="#ffff00"/>
<rect x="236" y="305" width="4" height="1" fill="#ffff00"/>
<rect x="241" y="305" width="1" height="1" fill="#ffff00"/>
<rect x="246" y="305" width="5" height="1" fill="#ffff00"/>
<rect x="252" y="305" width="3" height="1" fill="#ffff00"/>
<rect x="257" y="305" width="1" height="1" fill="#ffff00"/>
<rect x="260" y="305" width="2" height="1" fill="#ffff00"/>
<rect x="263" y="305" width="3" height="1" fill="#ffff00"/>
<rect x="271" y="305" width="8" height="1" fill="#ffff00"/>
<rect x="282" y="305" width="5" height="1" fill="#ffff00"/>
<rect x="288" y="305" width="1" height="1" fill="#ffff00"/>
<rect x="290" y="305" width="1" height="1" fill="#ffff00"/>
<rect x="300" y="305" width="1" height="1" fill="#ffff00"/>
<rect x="302" y="305" width="2" height="1" fill="#ffff00"/>
<rect x="311" y="305" width="2" height="1" fill="#ffff00"/>
<rect x="314" y="305" width="2" height="1" fill="#ffff00"/>
<rect x="320" y="305" width="1" height="1" fill="#ffff00"/>
<rect x="322" y="305" width="1" height="1" fill="#ffff00"/>
<rect x="324" y="305" width="2" height="1" fill="#ffff00"/>
<rect x="215" y="306" width="2" height="1" fill="#ffff00"/>
<rect x="218" y="306" width="1" height="1" fill="#ffff00"/>
<rect x="220" y="306" width="1" height="1" fill="#ffff00"/>
<rect x="224" y="306" width="3" height="1" fill="#ffff00"/>
<rect x="228" y="306" width="4" height="1" fill="#ffff00"/>
<rect x="236" y="306" width="3" height="1" fill="#ffff00"/>
<rect x="240" y="306" width="1" height="1" fill="#ffff00"/>
<rect x="242" y="306" width="1" height="1" fill="#ffff00"/>
<rect x="245" y="306" width="7" height="1" fill="#ffff00"/>
<rect x="259" y="306" width="6" height="1" fill="#ffff00"/>
<rect x="266" y="306" width="1" height="1" fill="#ffff00"/>
<rect x="275" y="306" width="5" height="1" fill="#ffff00"/>
<rect x="286" y="306" width="1" height="1" fill="#ffff00"/>
<rect x="288" y="306" width="1" height="1" fill="#ffff00"/>
<rect x="290" y="306" width="1" height="1" fill="#ffff00"/>
<rect x="299" y="306" width="1" height="1" fill="#ffff00"/>
<rect x="302" y="306" width="2" height="1" fill="#ffff00"/>
<rect x="310" y="306" width="1" height="1" fill="#ffff00"/>
<rect x="314" y="306" width="2" height="1" fill="#ffff00"/>
<rect x="319" y="306" width="1" height="1" fill="#ffff00"/>
<rect x="321" y="306" width="1" height="1" fill="#ffff00"/>
<rect x="324" y="306" width="2" height="1" fill="#ffff00"/>
<rect x="214" y="307" width="2" height="1" fill="#ffff00"/>
<rect x="218" y="307" width="1" height="1" fill="#ffff00"/>
<rect x="221" y="307" width="1" height="1" fill="#ffff00"/>
<rect x="224" y="307" width="4" height="1" fill="#ffff00"/>
<rect x="229" y="307" width="1" height="1" fill="#ffff00"/>
<rect x="232" y="307" width="1" height="1" fill="#ffff00"/>
<rect x="235" y="307" width="1" height="1" fill="#ffff00"/>
<rect x="237" y="307" width="2" height="1" fill="#ffff00"/>
<rect x="241" y="307" width="1" height="1" fill="#ffff00"/>
<rect x="248" y="307" width="4" height="1" fill="#ffff00"/>
<rect x="261" y="307" width="3" height="1" fill="#ffff00"/>
<rect x="266" y="307" width="2" height="1" fill="#ffff00"/>
<rect x="274" y="307" width="3" height="1" fill="#ffff00"/>
<rect x="278" y="307" width="2" height="1" fill="#ffff00"/>
<rect x="286" y="307" width="2" height="1" fill="#ffff00"/>
<rect x="289" y="307" width="1" height="1" fill="#ffff00"/>
<rect x="291" y="307" width="1" height="1" fill="#ffff00"/>
<rect x="298" y="307" width="1" height="1" fill="#ffff00"/>
<rect x="302" y="307" width="2" height="1" fill="#ffff00"/>
<rect x="309" y="307" width="1" height="1" fill="#ffff00"/>
<rect x="314" y="307" width="2" height="1" fill="#ffff00"/>
<rect x="318" y="307" width="1" height="1" fill="#ffff00"/>
<rect x="320" y="307" width="1" height="1" fill="#ffff00"/>
<rect x="325" y="307" width="1" height="1" fill="#ffff00"/>
<rect x="214" y="308" width="1" height="1" fill="#ffff00"/>
<rect x="218" y="308" width="1" height="1" fill="#ffff00"/>
<rect x="222" y="308" width="2" height="1" fill="#ffff00"/>
<rect x="225" y="308" width="2" height="1" fill="#ffff00"/>
<rect x="229" y="308" width="2" height="1" fill="#ffff00"/>
<rect x="234" y="308" width="1" height="1" fill="#ffff00"/>
<rect x="237" y="308" width="2" height="1" fill="#ffff00"/>
<rect x="249" y="308" width="3" height="1" fill="#ffff00"/>
<rect x="260" y="308" width="1" height="1" fill="#ffff00"/>
<rect x="262" y="308" width="2" height="1" fill="#ffff00"/>
<rect x="274" y="308" width="2" height="1" fill="#ffff00"/>
<rect x="278" y="308" width="2" height="1" fill="#ffff00"/>
<rect x="285" y="308" width="1" height="1" fill="#ffff00"/>
<rect x="287" y="308" width="1" height="1" fill="#ffff00"/>
<rect x="289" y="308" width="1" height="1" fill="#ffff00"/>
<rect x="291" y="308" width="1" height="1" fill="#ffff00"/>
<rect x="297" y="308" width="1" height="1" fill="#ffff00"/>
<rect x="302" y="308" width="1" height="1" fill="#ffff00"/>
<rect x="308" y="308" width="1" height="1" fill="#ffff00"/>
<rect x="314" y="308" width="1" height="1" fill="#ffff00"/>
<rect x="318" y="308" width="1" height="1" fill="#ffff00"/>
<rect x="320" y="308" width="1" height="1" fill="#ffff00"/>
<rect x="218" y="309" width="1" height="1" fill="#ffff00"/>
<rect x="222" y="309" width="2" height="1" fill="#ffff00"/>
<rect x="226" y="309" width="1" height="1" fill="#ffff00"/>
<rect x="229" y="309" width="1" height="1" fill="#ffff00"/>
<rect x="237" y="309" width="1" height="1" fill="#ffff00"/>
<rect x="239" y="309" width="1" height="1" fill="#ffff00"/>
<rect x="249" y="309" width="3" height="1" fill="#ffff00"/>
<rect x="260" y="309" width="1" height="1" fill="#ffff00"/>
<rect x="262" y="309" width="2" height="1" fill="#ffff00"/>
<rect x="274" y="309" width="2" height="1" fill="#ffff00"/>
<rect x="285" y="309" width="2" height="1" fill="#ffff00"/>
<rect x="296" y="309" width="1" height="1" fill="#ffff00"/>
<rect x="307" y="309" width="1" height="1" fill="#ffff00"/>
<rect x="317" y="309" width="1" height="1" fill="#ffff00"/>
<rect x="319" y="309" width="1" height="1" fill="#ffff00"/>
<rect x="217" y="310" width="2" height="1" fill="#ffff00"/>
<rect x="226" y="310" width="1" height="1" fill="#ffff00"/>
<rect x="229" y="310" width="1" height="1" fill="#ffff00"/>
<rect x="238" y="310" width="2" height="1" fill="#ffff00"/>
<rect x="249" y="310" width="3" height="1" fill="#ffff00"/>
<rect x="260" y="310" width="1" height="1" fill="#ffff00"/>
<rect x="262" y="310" width="2" height="1" fill="#ffff00"/>
<rect x="274" y="310" width="2" height="1" fill="#ffff00"/>
<rect x="284" y="310" width="1" height="1" fill="#ffff00"/>
<rect x="286" y="310" width="1" height="1" fill="#ffff00"/>
<rect x="295" y="310" width="1" height="1" fill="#ffff00"/>
<rect x="306" y="310" width="1" height="1" fill="#ffff00"/>
<rect x="316" y="310" width="4" height="1" fill="#ffff00"/>
<rect x="217" y="311" width="2" height="1" fill="#ffff00"/>
<rect x="226" y="311" width="1" height="1" fill="#ffff00"/>
<rect x="229" y="311" width="1" height="1" fill="#ffff00"/>
<rect x="238" y="311" width="2" height="1" fill="#ffff00"/>
<rect x="249" y="311" width="3" height="1" fill="#ffff00"/>
<rect x="260" y="311" width="1" height="1" fill="#ffff00"/>
<rect x="262" y="311" width="2" height="1" fill="#ffff00"/>
<rect x="273" y="311" width="2" height="1" fill="#ffff00"/>
<rect x="284" y="311" width="2" height="1" fill="#ffff00"/>
<rect x="294" y="311" width="1" height="1" fill="#ffff00"/>
<rect x="305" y="311" width="1" height="1" fill="#ffff00"/>
<rect x="316" y="311" width="1" height="1" fill="#ffff00"/>
<rect x="318" y="311" width="1" height="1" fill="#ffff00"/>
<rect x="217" y="312" width="2" height="1" fill="#ffff00"/>
<rect x="226" y="312" width="1" height="1" fill="#ffff00"/>
<rect x="229" y="312" width="1" height="1" fill="#ffff00"/>
<rect x="238" y="312" width="2" height="1" fill="#ffff00"/>
<rect x="249" y="312" width="3" height="1" fill="#ffff00"/>
<rect x="260" y="312" width="1" height="1" fill="#ffff00"/>
<rect x="262" y="312" width="2" height="1" fill="#ffff00"/>
<rect x="273" y="312" width="2" height="1" fill="#ffff00"/>
<rect x="284" y="312" width="2" height="1" fill="#ffff00"/>
<rect x="294" y="312" width="1" height="1" fill="#ffff00"/>
<rect x="317" y="312" width="1" height="1" fill="#ffff00"/>
<rect x="217" y="313" width="2" height="1" fill="#ffff00"/>
<rect x="226" y="313" width="1" height="1" fill="#ffff00"/>
<rect x="229" y="313" width="1" height="1" fill="#ffff00"/>
<rect x="238" y="313" width="2" height="1" fill="#ffff00"/>
<rect x="249" y="313" width="3" height="1" fill="#ffff00"/>
<rect x="260" y="313" width="3" height="1" fill="#ffff00"/>
<rect x="273" y="313" width="2" height="1" fill="#ffff00"/>
<rect x="283" y="313" width="2" height="1" fill="#ffff00"/>
<rect x="217" y="314" width="2" height="1" fill="#ffff00"/>
<rect x="226" y="314" width="2" height="1" fill="#ffff00"/>
<rect x="229" y="314" width="1" height="1" fill="#ffff00"/>
<rect x="238" y="314" width="2" height="1" fill="#ffff00"/>
<rect x="249" y="314" width="3" height="1" fill="#ffff00"/>
<rect x="260" y="314" width="3" height="1" fill="#ffff00"/>
<rect x="272" y="314" width="2" height="1" fill="#ffff00"/>
<rect x="283" y="314" width="2" height="1" fill="#ffff00"/>
<rect x="217" y="315" width="2" height="1" fill="#ffff00"/>
<rect x="227" y="315" width="1" height="1" fill="#ffff00"/>
<rect x="229" y="315" width="1" height="1" fill="#ffff00"/>
<rect x="238" y="315" width="2" height="1" fill="#ffff00"/>
<rect x="261" y="315" width="2" height="1" fill="#ffff00"/>
<rect x="272" y="315" width="2" height="1" fill="#ffff00"/>
<rect x="217" y="316" width="2" height="1" fill="#ffff00"/>
<rect x="227" y="316" width="1" height="1" fill="#ffff00"/>
<rect x="229" y="316" width="1" height="1" fill="#ffff00"/>
<rect x="238" y="316" width="1" height="1" fill="#ffff00"/>
<rect x="227" y="317" width="1" height="1" fill="#ffff00"/>
<rect x="334" y="240" width="3" height="1" fill="#ffff00"/>
<rect x="337" y="241" width="3" height="1" fill="#ffff00"/>
<rect x="337" y="242" width="3" height="1" fill="#ffff00"/>
<rect x="336" y="243" width="1" height="1" fill="#ffff00"/>
<rect x="339" y="243" width="1" height="1" fill="#ffff00"/>
<rect x="335" y="244" width="1" height="1" fill="#ffff00"/>
<rect x="338" y="244" width="1" height="1" fill="#ffff00"/>
<rect x="333" y="245" width="2" height="1" fill="#ffff00"/>
<rect x="338" y="245" width="1" height="1" fill="#ffff00"/>
<rect x="332" y="246" width="1" height="1" fill="#ffff00"/>
<rect x="338" y="246" width="1" height="1" fill="#ffff00"/>
<rect x="330" y="247" width="2" height="1" fill="#ffff00"/>
<rect x="329" y="248" width="1" height="1" fill="#ffff00"/>
<rect x="208" y="310" width="1" height="1" fill="#ffff00"/>
<rect x="206" y="311" width="4" height="1" fill="#ffff00"/>
<rect x="193" y="312" width="1" height="1" fill="#ffff00"/>
<rect x="205" y="312" width="1" height="1" fill="#ffff00"/>
<rect x="208" y="312" width="1" height="1" fill="#ffff00"/>
<rect x="210" y="312" width="1" height="1" fill="#ffff00"/>
<rect x="192" y="313" width="4" height="1" fill="#ffff00"/>
<rect x="204" y="313" width="1" height="1" fill="#ffff00"/>
<rect x="208" y="313" width="1" height="1" fill="#ffff00"/>
<rect x="210" y="313" width="2" height="1" fill="#ffff00"/>
<rect x="192" y="314" width="3" height="1" fill="#ffff00"/>
<rect x="196" y="314" width="1" height="1" fill="#ffff00"/>
<rect x="208" y="314" width="1" height="1" fill="#ffff00"/>
<rect x="211" y="314" width="1" height="1" fill="#ffff00"/>
<rect x="191" y="315" width="1" height="1" fill="#ffff00"/>
<rect x="194" y="315" width="1" height="1" fill="#ffff00"/>
<rect x="197" y="315" width="1" height="1" fill="#ffff00"/>
<rect x="207" y="315" width="2" height="1" fill="#ffff00"/>
<rect x="190" y="316" width="1" height="1" fill="#ffff00"/>
<rect x="194" y="316" width="1" height="1" fill="#ffff00"/>
<rect x="207" y="316" width="1" height="1" fill="#ffff00"/>
<rect x="194" y="317" width="1" height="1" fill="#ffff00"/>
<rect x="207" y="317" width="1" height="1" fill="#ffff00"/>
<rect x="194" y="318" width="1" height="1" fill="#ffff00"/>
<rect x="207" y="318" width="1" height="1" fill="#ffff00"/>
<rect x="194" y="319" width="1" height="1" fill="#ffff00"/>
<rect x="207" y="319" width="1" height="1" fill="#ffff00"/>
<rect x="177" y="320" width="2" height="1" fill="#ffff00"/>
<rect x="194" y="320" width="1" height="1" fill="#ffff00"/>
<rect x="207" y="320" width="1" height="1" fill="#ffff00"/>
<rect x="175" y="321" width="2" height="1" fill="#ffff00"/>
<rect x="195" y="321" width="1" height="1" fill="#ffff00"/>
<rect x="207" y="321" width="1" height="1" fill="#ffff00"/>
<rect x="173" y="322" width="2" height="1" fill="#ffff00"/>
<rect x="195" y="322" width="1" height="1" fill="#ffff00"/>
<rect x="207" y="322" width="1" height="1" fill="#ffff00"/>
<rect x="173" y="323" width="3" height="1" fill="#ffff00"/>
<rect x="195" y="323" width="1" height="1" fill="#ffff00"/>
<rect x="174" y="324" width="1" height="1" fill="#ffff00"/>
<rect x="176" y="324" width="2" height="1" fill="#ffff00"/>
<rect x="195" y="324" width="1" height="1" fill="#ffff00"/>
<rect x="174" y="325" width="1" height="1" fill="#ffff00"/>
<rect x="178" y="325" width="2" height="1" fill="#ffff00"/>
<rect x="175" y="326" width="1" height="1" fill="#ffff00"/>
<rect x="180" y="326" width="2" height="1" fill="#ffff00"/>
<rect x="175" y="327" width="1" height="1" fill="#ffff00"/>
<rect x="182" y="327" width="2" height="1" fill="#ffff00"/>
<rect x="184" y="328" width="1" height="1" fill="#ffff00"/>
<rect x="72" y="332" width="473" height="1" fill="#ff0000"/>
<rect x="108" y="329" width="1" height="10" fill="#ff0000"/>
<rect x="147" y="329" width="1" height="10" fill="#ff0000"/>
<rect x="186" y="329" width="1" height="10" fill="#ff0000"/>
<rect x="225" y="329" width="1" height="10" fill="#ff0000"/>
<rect x="265" y="329" width="1" height="10" fill="#ff0000"/>
<rect x="304" y="329" width="1" height="10" fill="#ff0000"/>
<rect x="343" y="329" width="1" height="10" fill="#ff0000"/>
<rect x="382" y="329" width="1" height="10" fill="#ff0000"/>
<rect x="421" y="329" width="1" height="10" fill="#ff0000"/>
<rect x="461" y="329" width="1" height="10" fill="#ff0000"/>
<rect x="500" y="329" width="1" height="10" fill="#ff0000"/>
<rect x="461" y="329" width="1" height="3" fill="#ffff00"/>
<rect x="115" y="397" width="5" height="4" fill="#00ff00"/>
<rect x="127" y="401" width="4" height="4" fill="#00ff00"/>
<rect x="137" y="409" width="5" height="4" fill="#00ff00"/>
<rect x="149" y="409" width="4" height="4" fill="#00ff00"/>
<rect x="161" y="409" width="4" height="4" fill="#00ff00"/>
<rect x="159" y="413" width="5" height="4" fill="#00ff00"/>
<rect x="183" y="405" width="4" height="4" fill="#00ff00"/>
<rect x="194" y="394" width="4" height="4" fill="#00ff00"/>
<rect x="206" y="378" width="4" height="4" fill="#00ff00"/>
<rect x="217" y="370" width="4" height="4" fill="#00ff00"/>
<rect x="216" y="374" width="4" height="4" fill="#00ff00"/>
<rect x="226" y="366" width="6" height="4" fill="#00ff00"/>
<rect x="237" y="363" width="5" height="4" fill="#00ff00"/>
<rect x="248" y="363" width="6" height="4" fill="#00ff00"/>
<rect x="259" y="363" width="5" height="4" fill="#00ff00"/>
<rect x="261" y="366" width="4" height="4" fill="#00ff00"/>
<rect x="271" y="363" width="5" height="4" fill="#00ff00"/>
<rect x="282" y="366" width="5" height="4" fill="#00ff00"/>
<rect x="293" y="366" width="5" height="4" fill="#00ff00"/>
<rect x="304" y="366" width="5" height="4" fill="#00ff00"/>
<rect x="315" y="359" width="5" height="4" fill="#00ff00"/>
<rect x="339" y="359" width="4" height="4" fill="#00ff00"/>
<rect x="348" y="363" width="5" height="4" fill="#00ff00"/>
<rect x="360" y="366" width="4" height="4" fill="#00ff00"/>
<rect x="371" y="366" width="5" height="4" fill="#00ff00"/>
<rect x="382" y="370" width="4" height="4" fill="#00ff00"/>
<rect x="383" y="374" width="4" height="4" fill="#00ff00"/>
<rect x="394" y="370" width="4" height="4" fill="#00ff00"/>
<rect x="393" y="374" width="4" height="4" fill="#00ff00"/>
<rect x="405" y="374" width="4" height="4" fill="#00ff00"/>
<rect x="414" y="378" width="4" height="4" fill="#00ff00"/>
<rect x="415" y="382" width="5" height="4" fill="#00ff00"/>
<rect x="417" y="386" width="4" height="4" fill="#00ff00"/>
<rect x="425" y="390" width="6" height="4" fill="#00ff00"/>
<rect x="438" y="390" width="4" height="4" fill="#00ff00"/>
<rect x="439" y="394" width="4" height="4" fill="#00ff00"/>
<rect x="449" y="390" width="4" height="4" fill="#00ff00"/>
<rect x="461" y="386" width="4" height="4" fill="#00ff00"/>
<rect x="459" y="390" width="4" height="4" fill="#00ff00"/>
<rect x="470" y="390" width="5" height="4" fill="#00ff00"/>
<rect x="482" y="390" width="4" height="4" fill="#00ff00"/>
<rect x="493" y="394" width="5" height="4" fill="#00ff00"/>
<path d="M70.5 40.5H538.5V428.5H70.5Z" fill="none" stroke="#ff0000" stroke-width="3"/>
</g>
<g filter="url(#crispT)">
<text class="t" text-anchor="middle" transform="scale(1.08,1)"><tspan class="s" x="81.48 88.89 96.3 103.7" y="23 23 23 23">8913</tspan></text>
<text class="t" text-anchor="middle" transform="scale(1.08,1)"><tspan class="s" x="251.85 259.26" y="23 23">79</tspan><tspan class="p" x="264.81" y="23.0">.</tspan><tspan class="s" x="274.07 281.48" y="23 23">87</tspan><tspan class="m" x="288.89" y="23">S</tspan></text>
<text class="t" text-anchor="middle" transform="scale(1.08,1)"><tspan class="s" x="311.11 318.52 325.93" y="23 23 23">170</tspan><tspan class="p" x="331.48" y="23.0">.</tspan><tspan class="s" x="340.74 348.15" y="23 23">14</tspan><tspan class="m" x="355.56" y="23">E</tspan></text>
<text class="t" text-anchor="middle" transform="scale(1.08,1)"><tspan class="s" x="392.59 400.0" y="23 23">54</tspan><tspan class="m" x="407.41" y="23">M</tspan></text>
<text class="t" text-anchor="middle" transform="scale(1.08,1)"><tspan class="s" x="66.67 74.07 81.48" y="36 36 36">19 </tspan><tspan class="m" x="88.89 96.3 103.7" y="36 36 36">May</tspan><tspan class="s" x="111.11 118.52 125.93 133.33 140.74" y="36 36 36 36 36"> 2015</tspan><tspan class="m" x="148.15" y="36">/</tspan><tspan class="s" x="155.56 162.96 170.37 177.78 185.19 192.59" y="36 36 36 36 36 36">120000</tspan><tspan class="m" x="200.0 207.41 214.81" y="36 36 36">UTC</tspan><tspan class="s" x="222.22" y="36"> </tspan><tspan class="m h" x="229.63" y="37.0">-</tspan><tspan class="s" x="237.04 244.44 251.85 259.26" y="36 36 36 36"> 22 </tspan><tspan class="m" x="266.67 274.07 281.48" y="36 36 36">May</tspan><tspan class="s" x="288.89 296.3 303.7 311.11 318.52" y="36 36 36 36 36"> 2015</tspan><tspan class="m" x="325.93" y="36">/</tspan><tspan class="s" x="333.33 340.74 348.15 355.56 362.96 370.37" y="36 36 36 36 36 36">000000</tspan><tspan class="m" x="377.78 385.19 392.59" y="36 36 36">UTC</tspan></text>
<text class="t" text-anchor="middle" transform="scale(1.08,1)"><tspan class="s" x="59.26 66.67" y="448 448">06</tspan></text>
<text class="t" text-anchor="middle" transform="scale(1.08,1)"><tspan class="s" x="95.37 102.78" y="448 448">12</tspan></text>
<text class="t" text-anchor="middle" transform="scale(1.08,1)"><tspan class="s" x="131.48 138.89" y="448 448">18</tspan></text>
<text class="t" text-anchor="middle" transform="scale(1.08,1)"><tspan class="s" x="167.59 175.0" y="448 448">00</tspan></text>
<text class="t" text-anchor="middle" transform="scale(1.08,1)"><tspan class="s" x="203.7 211.11" y="448 448">06</tspan></text>
<text class="t" text-anchor="middle" transform="scale(1.08,1)"><tspan class="s" x="240.74 248.15" y="448 448">12</tspan></text>
<text class="t" text-anchor="middle" transform="scale(1.08,1)"><tspan class="s" x="276.85 284.26" y="448 448">18</tspan></text>
<text class="t" text-anchor="middle" transform="scale(1.08,1)"><tspan class="s" x="312.96 320.37" y="448 448">00</tspan></text>
<text class="t" text-anchor="middle" transform="scale(1.08,1)"><tspan class="s" x="349.07 356.48" y="448 448">06</tspan></text>
<text class="t" text-anchor="middle" transform="scale(1.08,1)"><tspan class="s" x="385.19 392.59" y="448 448">12</tspan></text>
<text class="t" text-anchor="middle" transform="scale(1.08,1)"><tspan class="s" x="422.22 429.63" y="448 448">18</tspan></text>
<text class="t" text-anchor="middle" transform="scale(1.08,1)"><tspan class="s" x="458.33 465.74" y="448 448">00</tspan></text>
<text class="t" text-anchor="middle" transform="scale(1.08,1)"><tspan class="s" x="494.44 501.85" y="448 448">06</tspan></text>
<text class="t" text-anchor="middle" transform="scale(1.08,1)"><tspan class="s" x="152.78 160.19 167.59" y="461 461 461">20 </tspan><tspan class="m" x="175.0 182.41 189.81" y="461 461 461">May</tspan></text>
<text class="t" text-anchor="middle" transform="scale(1.08,1)"><tspan class="s" x="298.15 305.56 312.96" y="461 461 461">21 </tspan><tspan class="m" x="320.37 327.78 335.19" y="461 461 461">May</tspan></text>
<text class="t" text-anchor="middle" transform="scale(1.08,1)"><tspan class="s" x="443.52 450.93 458.33" y="461 461 461">22 </tspan><tspan class="m" x="465.74 473.15 480.56" y="461 461 461">May</tspan></text>
<text class="t" text-anchor="middle" transform="scale(1.08,1)"><tspan class="s" x="17.59" y="479">2</tspan></text>
</g>
<g filter="url(#crispR)">
<text class="r" text-anchor="middle" transform="scale(1.05,1)"><tspan class="s" x="541.52" y="62">0</tspan><tspan class="p" x="545.71" y="62.0">.</tspan><tspan class="s" x="552.95" y="62">0</tspan></text>
<text class="r" text-anchor="middle" transform="scale(1.05,1)"><tspan class="m h" x="530.1" y="79.0">-</tspan><tspan class="s" x="535.81 541.52" y="78 78">10</tspan><tspan class="p" x="545.71" y="78.0">.</tspan><tspan class="s" x="552.95" y="78">0</tspan></text>
<text class="r" text-anchor="middle" transform="scale(1.05,1)"><tspan class="m h" x="530.1" y="95.0">-</tspan><tspan class="s" x="535.81 541.52" y="94 94">20</tspan><tspan class="p" x="545.71" y="94.0">.</tspan><tspan class="s" x="552.95" y="94">0</tspan></text>
<text class="r" text-anchor="middle" transform="scale(1.05,1)"><tspan class="m h" x="530.1" y="111.0">-</tspan><tspan class="s" x="535.81 541.52" y="110 110">30</tspan><tspan class="p" x="545.71" y="110.0">.</tspan><tspan class="s" x="552.95" y="110">0</tspan></text>
<text class="r" text-anchor="middle" transform="scale(1.05,1)"><tspan class="m h" x="530.1" y="127.0">-</tspan><tspan class="s" x="535.81 541.52" y="126 126">40</tspan><tspan class="p" x="545.71" y="126.0">.</tspan><tspan class="s" x="552.95" y="126">0</tspan></text>
<text class="r" text-anchor="middle" transform="scale(1.05,1)"><tspan class="m h" x="530.1" y="143.0">-</tspan><tspan class="s" x="535.81 541.52" y="142 142">50</tspan><tspan class="p" x="545.71" y="142.0">.</tspan><tspan class="s" x="552.95" y="142">0</tspan></text>
<text class="r" text-anchor="middle" transform="scale(1.05,1)"><tspan class="s" x="530.1 535.81 541.52" y="159 159 159">985</tspan><tspan class="p" x="545.71" y="159.0">.</tspan><tspan class="s" x="552.95" y="159">0</tspan></text>
<text class="r" text-anchor="middle" transform="scale(1.05,1)"><tspan class="s" x="530.1 535.81 541.52" y="175 175 175">980</tspan><tspan class="p" x="545.71" y="175.0">.</tspan><tspan class="s" x="552.95" y="175">0</tspan></text>
<text class="r" text-anchor="middle" transform="scale(1.05,1)"><tspan class="s" x="530.1 535.81 541.52" y="191 191 191">975</tspan><tspan class="p" x="545.71" y="191.0">.</tspan><tspan class="s" x="552.95" y="191">0</tspan></text>
<text class="r" text-anchor="middle" transform="scale(1.05,1)"><tspan class="s" x="530.1 535.81 541.52" y="207 207 207">970</tspan><tspan class="p" x="545.71" y="207.0">.</tspan><tspan class="s" x="552.95" y="207">0</tspan></text>
<text class="r" text-anchor="middle" transform="scale(1.05,1)"><tspan class="s" x="530.1 535.81 541.52" y="223 223 223">965</tspan><tspan class="p" x="545.71" y="223.0">.</tspan><tspan class="s" x="552.95" y="223">0</tspan></text>
<text class="r" text-anchor="middle" transform="scale(1.05,1)"><tspan class="s" x="530.1 535.81 541.52" y="239 239 239">960</tspan><tspan class="p" x="545.71" y="239.0">.</tspan><tspan class="s" x="552.95" y="239">0</tspan></text>
<text class="r" text-anchor="middle" transform="scale(1.05,1)"><tspan class="s" x="535.81 541.52" y="256 256">50</tspan><tspan class="p" x="545.71" y="256.0">.</tspan><tspan class="s" x="552.95" y="256">0</tspan></text>
<text class="r" text-anchor="middle" transform="scale(1.05,1)"><tspan class="s" x="535.81 541.52" y="272 272">40</tspan><tspan class="p" x="545.71" y="272.0">.</tspan><tspan class="s" x="552.95" y="272">0</tspan></text>
<text class="r" text-anchor="middle" transform="scale(1.05,1)"><tspan class="s" x="535.81 541.52" y="288 288">30</tspan><tspan class="p" x="545.71" y="288.0">.</tspan><tspan class="s" x="552.95" y="288">0</tspan></text>
<text class="r" text-anchor="middle" transform="scale(1.05,1)"><tspan class="s" x="535.81 541.52" y="304 304">20</tspan><tspan class="p" x="545.71" y="304.0">.</tspan><tspan class="s" x="552.95" y="304">0</tspan></text>
<text class="r" text-anchor="middle" transform="scale(1.05,1)"><tspan class="s" x="535.81 541.52" y="320 320">10</tspan><tspan class="p" x="545.71" y="320.0">.</tspan><tspan class="s" x="552.95" y="320">0</tspan></text>
<text class="r" text-anchor="middle" transform="scale(1.05,1)"><tspan class="s" x="541.52" y="336">0</tspan><tspan class="p" x="545.71" y="336.0">.</tspan><tspan class="s" x="552.95" y="336">0</tspan></text>
<text class="r" text-anchor="middle" transform="scale(1.05,1)"><tspan class="s" x="535.81 541.52" y="356 356">80</tspan><tspan class="p" x="545.71" y="356.0">.</tspan><tspan class="s" x="552.95" y="356">0</tspan></text>
<text class="r" text-anchor="middle" transform="scale(1.05,1)"><tspan class="s" x="535.81 541.52" y="375 375">75</tspan><tspan class="p" x="545.71" y="375.0">.</tspan><tspan class="s" x="552.95" y="375">0</tspan></text>
<text class="r" text-anchor="middle" transform="scale(1.05,1)"><tspan class="s" x="535.81 541.52" y="395 395">70</tspan><tspan class="p" x="545.71" y="395.0">.</tspan><tspan class="s" x="552.95" y="395">0</tspan></text>
<text class="r" text-anchor="middle" transform="scale(1.05,1)"><tspan class="s" x="535.81 541.52" y="414 414">65</tspan><tspan class="p" x="545.71" y="414.0">.</tspan><tspan class="s" x="552.95" y="414">0</tspan></text>
<text class="r" text-anchor="middle" transform="scale(1.05,1)"><tspan class="s" x="535.81 541.52" y="433 433">60</tspan><tspan class="p" x="545.71" y="433.0">.</tspan><tspan class="s" x="552.95" y="433">0</tspan></text>
<text class="r" text-anchor="middle" transform="scale(1.05,1)"><tspan class="m" x="563.43" y="93">T</tspan><tspan class="m q" x="569.62" y="92.0">(</tspan><tspan class="m" x="574.86" y="93">C</tspan><tspan class="m q" x="580.1" y="92.0">)</tspan></text>
<text class="r" text-anchor="middle" transform="scale(1.05,1)"><tspan class="m" x="563.43 569.14 574.86" y="190 190 190">Pre</tspan><tspan class="s" x="580.57" y="190"> </tspan><tspan class="m q" x="586.76" y="189.0">(</tspan><tspan class="m" x="592.0 597.71" y="190 190">mb</tspan><tspan class="m q" x="602.95" y="189.0">)</tspan></text>
<text class="r" text-anchor="middle" transform="scale(1.05,1)"><tspan class="m" x="563.43 569.14 574.86" y="287 287 287">SPD</tspan><tspan class="m q" x="581.05" y="286.0">(</tspan><tspan class="m" x="586.29 592.0 597.71" y="287 287 287">MPS</tspan><tspan class="m q" x="602.95" y="286.0">)</tspan></text>
<text class="r" text-anchor="middle" transform="scale(1.05,1)"><tspan class="m" x="563.43 569.14" y="384 384">RH</tspan><tspan class="m q" x="575.33" y="383.0">(</tspan><tspan class="m" x="580.57" y="384">%</tspan><tspan class="m q" x="585.81" y="383.0">)</tspan></text>
</g>
</svg></body></html>
